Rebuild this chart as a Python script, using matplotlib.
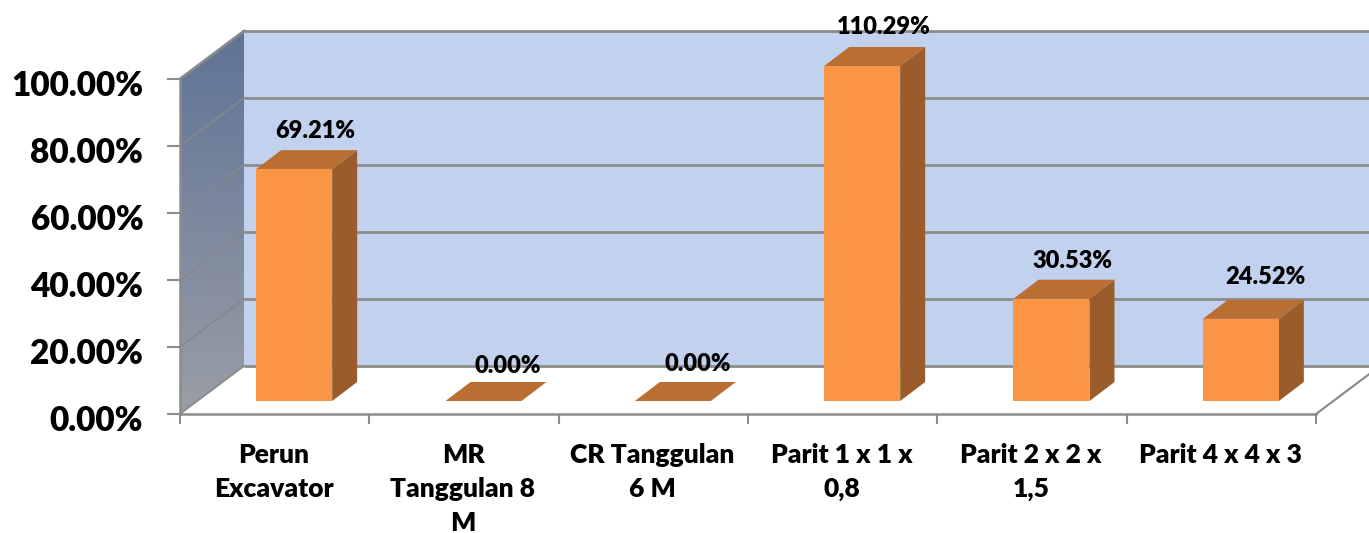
import matplotlib
matplotlib.use("Agg")
import matplotlib.pyplot as plt
import numpy as np
from matplotlib.colors import LinearSegmentedColormap
from matplotlib.patches import Polygon
from matplotlib.transforms import Affine2D, IdentityTransform, ScaledTranslation

categories = ["Perun\nExcavator", "MR\nTanggulan 8\nM", "CR Tanggulan\n6 M",
              "Parit 1 x 1 x\n0,8", "Parit 2 x 2 x\n1,5", "Parit 4 x 4 x 3"]
values = [69.21, 0.00, 0.00, 110.29, 30.53, 24.52]
yticks = [0, 20, 40, 60, 80, 100]

W, H = 1369, 533
GREY = "#8c8c8c"
WEIGHT = "heavy"
plt.rcParams["font.family"] = ["Lato", "DejaVu Sans"]

# where each value label sits relative to the top edge of its bar, in pixels
label_offsets = [(21, 38), (24, 35), (25, 37), (22, 39), (21, 38), (25, 42)]

fig = plt.figure(figsize=(W / 100, H / 100), dpi=100)
ax = fig.add_axes([180 / W, (H - 414) / H, 1136 / W, 335 / H])
ax.set_xlim(0, 6)
ax.set_ylim(0, 100)
CAT_PX = 1136 / 6
PCT_PX = 335 / 100


def shifted(dx, dy):
    return ax.transData + Affine2D().translate(dx, dy)


def poly(points, **kw):
    p = Polygon(points, closed=True, transform=IdentityTransform(), clip_on=False, **kw)
    ax.add_patch(p)
    return p


# walls and floor, in pixels from the axes corners
WALL_DX, WALL_DY = 64, 48
bl, tl, br, tr = ax.transData.transform([(0, 0), (0, 100), (6, 0), (6, 100)])
d = np.array([WALL_DX, WALL_DY])

poly([bl + d, tl + d, tr + d, br + d], facecolor="#c1d1ee", edgecolor="none", zorder=0.5)

side = poly([bl, tl, tl + d, bl + d], facecolor="none", edgecolor="none", zorder=0.6)
grad = np.linspace(0, 1, 200).reshape(-1, 1)
cmap = LinearSegmentedColormap.from_list("wall", ["#5f7396", "#9a9ea6"])
im = ax.imshow(grad, cmap=cmap, aspect="auto", zorder=0.6,
               extent=[0, WALL_DX / CAT_PX, 0, 100 + WALL_DY / PCT_PX], origin="upper")
im.set_clip_box(fig.bbox)
im.set_clip_path(side)
ax.set_xlim(0, 6)
ax.set_ylim(0, 100)

# grid on the back wall and across the side wall
for t in yticks:
    ax.plot([0, 6], [t, t], color=GREY, lw=2.0, transform=shifted(WALL_DX, WALL_DY),
            clip_on=False, zorder=1, solid_capstyle="butt")
    p = ax.transData.transform((0, t))
    ax.plot([p[0], p[0] + WALL_DX], [p[1], p[1] + WALL_DY], color="#86888c",
            lw=2.0 if t == 100 else 1.2, transform=IdentityTransform(), clip_on=False, zorder=1)

# floor right edge
ax.plot([br[0], br[0] + WALL_DX], [br[1], br[1] + WALL_DY], color=GREY, lw=1.6,
        transform=IdentityTransform(), clip_on=False, zorder=1)

# bars, capped at the top of the axis like the original chart
BAR_DX, BAR_DY = 19.5, 13
DEPTH = np.array([25, 19])
width = 76 / CAT_PX
x = np.arange(len(values)) + 0.5
heights = np.minimum(values, 100)
front = shifted(BAR_DX, BAR_DY)

for xi, h, v, off in zip(x, heights, values, label_offsets):
    a, b, c, e = front.transform([(xi - width / 2, 0), (xi + width / 2, 0),
                                  (xi + width / 2, h), (xi - width / 2, h)])
    if h > 0:
        poly([b, c, c + DEPTH, b + DEPTH], facecolor="#9a5c2a", edgecolor="none", zorder=2)
    poly([e, c, c + DEPTH, e + DEPTH], facecolor="#b96f32", edgecolor="none", zorder=2)
    ax.annotate(f"{v:.2f}%", xy=((e + c) / 2), xycoords="figure pixels",
                xytext=off, textcoords="offset pixels", ha="center", va="center",
                fontsize=17, fontweight=WEIGHT, color="black", zorder=5, annotation_clip=False)

ax.bar(x, heights, width=width, color="#fa9546", transform=front, clip_on=False, zorder=3)
ax.set_xlim(0, 6)
ax.set_ylim(0, 100)

# axes
ax.patch.set_visible(False)
for s in ["top", "right"]:
    ax.spines[s].set_visible(False)
for s in ["left", "bottom"]:
    ax.spines[s].set_color(GREY)
    ax.spines[s].set_linewidth(1.8)
    ax.spines[s].set_zorder(1.5)

ax.set_yticks(yticks)
ax.set_yticklabels([f"{t:.2f}%" for t in yticks], fontsize=24, fontweight=WEIGHT)
ax.tick_params(axis="y", length=9.4, width=1.5, color=GREY, pad=17)
for lab in ax.get_yticklabels():
    lab.set_transform(lab.get_transform() + ScaledTranslation(0, -3 / 72, fig.dpi_scale_trans))
ax.set_xticks(np.arange(7))
ax.set_xticklabels([])
ax.tick_params(axis="x", length=7.5, width=1.5, color=GREY)

for xi, label in zip(x, categories):
    ax.annotate(label, xy=(xi, 0), xycoords="data", xytext=(-1, -29), textcoords="offset pixels",
                ha="center", va="top", fontsize=19, fontweight=WEIGHT, linespacing=1.5,
                annotation_clip=False)

fig.savefig("out.png", dpi=100)
